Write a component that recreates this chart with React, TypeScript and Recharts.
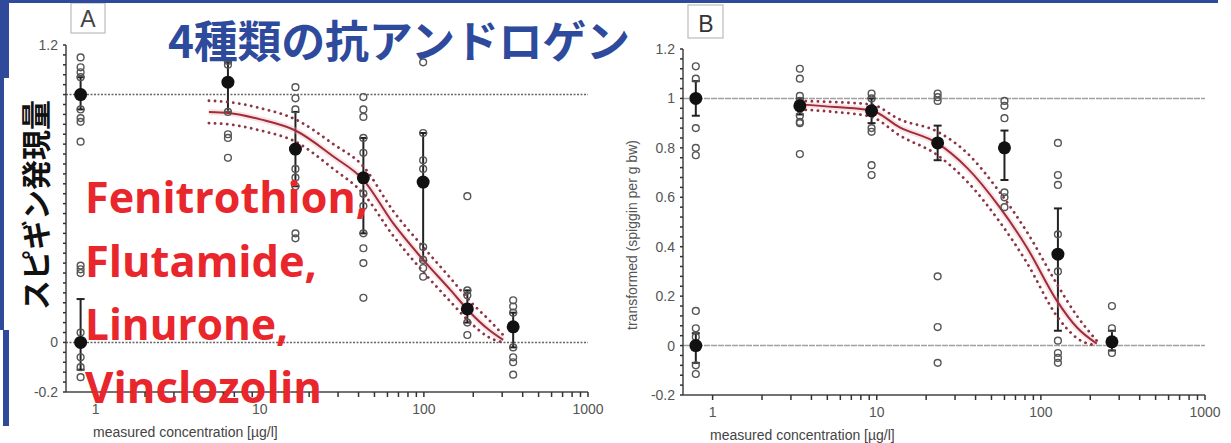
import React from "react";
import {
  ComposedChart,
  Scatter,
  Line,
  XAxis,
  YAxis,
  ReferenceLine,
  ErrorBar,
} from "recharts";

// Panel A: group concentrations (µg/l); the first two columns are the controls
const groupConcA = [0.81, 0.81, 6.4, 16.5, 42.8, 99, 184, 350];
const meanA = [1.0, 0.0, 1.05, 0.78, 0.664, 0.647, 0.135, 0.063];
const barLowA = [0.94, -0.11, 0.93, 0.63, 0.44, 0.33, 0.08, -0.02];
const barHighA = [1.07, 0.175, 1.13, 0.93, 0.825, 0.845, 0.21, 0.12];
const pointsA = [
  [1.15, 1.11, 1.09, 1.07, 0.94, 0.905, 0.89, 0.81],
  [0.31, 0.295, 0.28, 0.04, -0.06, -0.1, -0.14],
  [1.135, 1.12, 0.93, 0.84, 0.825, 0.745],
  [1.03, 0.985, 0.94, 0.7, 0.665, 0.63, 0.44, 0.42],
  [0.99, 0.94, 0.91, 0.825, 0.765, 0.6, 0.55, 0.44, 0.38, 0.32, 0.18],
  [1.13, 0.845, 0.735, 0.7, 0.385, 0.333, 0.3, 0.265],
  [0.59, 0.21, 0.19, 0.08, 0.03],
  [0.17, 0.145, 0.12, -0.02, -0.06, -0.08, -0.13],
];
// fitted concentration-response curve with its confidence band
const fitConcA = [4.9, 6.45, 10.1, 16.5, 28.1, 42.8, 65.1, 99.1, 145, 192, 250, 304];
const fitMidA = [0.93, 0.926, 0.9, 0.855, 0.75, 0.656, 0.48, 0.333, 0.212, 0.12, 0.05, 0.01];
const fitUpperA = [0.975, 0.97, 0.945, 0.9, 0.8, 0.71, 0.53, 0.385, 0.26, 0.165, 0.09, 0.03];
const fitLowerA = [0.885, 0.88, 0.855, 0.81, 0.7, 0.6, 0.43, 0.285, 0.165, 0.08, 0.02, 0.0];

// Panel B
const groupConcB = [0.79, 0.79, 3.4, 9.3, 23.5, 60, 127, 271];
const meanB = [1.0, 0.0, 0.97, 0.95, 0.82, 0.8, 0.37, 0.015];
const barLowB = [0.93, -0.07, 0.935, 0.9, 0.75, 0.67, 0.06, -0.02];
const barHighB = [1.07, 0.05, 1.0, 1.0, 0.89, 0.87, 0.555, 0.06];
const pointsB = [
  [1.13, 1.08, 0.88, 0.8, 0.77],
  [0.14, 0.07, 0.035, -0.08, -0.115],
  [1.12, 1.08, 1.01, 0.99, 0.93, 0.905, 0.9, 0.775],
  [1.02, 1.0, 0.88, 0.865, 0.73, 0.69],
  [1.02, 1.005, 0.99, 0.28, 0.075, -0.07],
  [0.99, 0.97, 0.92, 0.62, 0.6, 0.56],
  [0.82, 0.69, 0.65, 0.45, 0.3, 0.02, -0.03, -0.05, -0.07],
  [0.16, 0.07, -0.03],
];
const fitConcB = [3.39, 5.6, 9.3, 13.8, 23.5, 35.4, 56.2, 82.2, 125, 166, 219];
const fitMidB = [0.976, 0.965, 0.951, 0.883, 0.818, 0.72, 0.559, 0.397, 0.182, 0.073, 0.008];
const fitUpperB = [0.99, 0.985, 0.975, 0.915, 0.865, 0.78, 0.62, 0.46, 0.25, 0.12, 0.02];
const fitLowerB = [0.955, 0.945, 0.925, 0.85, 0.77, 0.665, 0.5, 0.335, 0.12, 0.03, 0.0];

// axis ticks
const xMajorTicks = [1, 10, 100, 1000];
const xMajorLabels = ["1", "10", "100", "1000"];
const yMajorTicks = [-0.2, 0, 0.2, 0.4, 0.6, 0.8, 1, 1.2];
const yMajorLabels = ["-0.2", "0", "0.2", "0.4", "0.6", "0.8", "1", "1.2"];

const xTicks: number[] = [];
[1, 10, 100].forEach((d) => {
  for (let k = 1; k < 10; k++) xTicks.push(d * k);
});
xTicks.push(1000);

const yTicks: number[] = [];
for (let i = -5; i <= 30; i++) yTicks.push(Math.round(i * 4) / 100);

const Y_DOMAIN = [-0.2, 1.2];
const X_DOMAIN = [0.66, 1000];

const TICK_FONT = "'Liberation Sans', Arial, sans-serif";
const tickStyle = { fontSize: 14, fill: "#555", fontFamily: TICK_FONT };
const tickLineStyle = { stroke: "#333", strokeWidth: 1.5 };

const formatX = (v: number) => {
  const i = xMajorTicks.indexOf(v);
  return i >= 0 ? xMajorLabels[i] : "";
};
const formatY = (v: number) => {
  const i = yMajorTicks.findIndex((t) => Math.abs(t - v) < 1e-6);
  return i >= 0 ? yMajorLabels[i] : "";
};

const toXY = (xs: number[], ys: number[]) => xs.map((x, i) => ({ x, y: ys[i] }));

const OpenDot = (p: any) => (
  <circle cx={p.cx} cy={p.cy} r={3.4} fill="none" stroke="#555" strokeWidth={1.4} />
);
const MeanDot = (p: any) => <circle cx={p.cx} cy={p.cy} r={6.5} fill="#111" />;

interface Frame {
  left: number;
  width: number;
  plotLeft: number;
  plotRight: number;
  plotTop: number;
  plotBottom: number;
}

interface PanelProps extends Frame {
  conc: number[];
  mean: number[];
  low: number[];
  high: number[];
  points: number[][];
  fitConc: number[];
  fitMid: number[];
  fitUpper: number[];
  fitLower: number[];
  refStroke: string;
  refDash: string;
}

const chartMargin = (f: Frame) => ({
  top: f.plotTop,
  right: f.width - f.plotRight,
  bottom: 0,
  left: 0,
});

const Panel: React.FC<PanelProps> = (p) => {
  const raw = p.points.flatMap((ys, g) => ys.map((y) => ({ x: p.conc[g], y })));
  const means = p.conc.map((x, i) => ({
    x,
    y: p.mean[i],
    err: [p.mean[i] - p.low[i], p.high[i] - p.mean[i]],
  }));
  const mid = toXY(p.fitConc, p.fitMid);
  const upper = toXY(p.fitConc, p.fitUpper);
  const lower = toXY(p.fitConc, p.fitLower);

  return (
    <div style={{ position: "absolute", left: p.left, top: 0 }}>
      <ComposedChart width={p.width} height={443} margin={chartMargin(p)}>
        <XAxis
          type="number"
          dataKey="x"
          scale="log"
          domain={X_DOMAIN}
          ticks={xTicks}
          interval={0}
          tickSize={5}
          tickMargin={7}
          axisLine={{ stroke: "#444", strokeWidth: 1.6 }}
          tickLine={tickLineStyle}
          tick={tickStyle}
          tickFormatter={formatX}
          height={443 - p.plotBottom}
        />
        <YAxis
          type="number"
          dataKey="y"
          domain={Y_DOMAIN}
          ticks={yTicks}
          interval={0}
          tickSize={3}
          tickMargin={5}
          axisLine={{ stroke: "#444", strokeWidth: 1.5 }}
          tickLine={tickLineStyle}
          tick={tickStyle}
          tickFormatter={formatY}
          width={p.plotLeft}
        />
        <ReferenceLine y={1} stroke={p.refStroke} strokeWidth={1.6} strokeDasharray={p.refDash} />
        <ReferenceLine y={0} stroke={p.refStroke} strokeWidth={1.6} strokeDasharray={p.refDash} />
        <Scatter data={raw} shape={OpenDot} isAnimationActive={false} />
        <Scatter data={means} shape={MeanDot} isAnimationActive={false}>
          <ErrorBar dataKey="err" direction="y" width={4} strokeWidth={2} stroke="#222" />
        </Scatter>
        <Line
          data={mid}
          dataKey="y"
          type="monotone"
          stroke="#eeb0b8"
          strokeOpacity={0.35}
          strokeWidth={6}
          dot={false}
          isAnimationActive={false}
        />
        <Line
          data={upper}
          dataKey="y"
          type="monotone"
          stroke="#8e3442"
          strokeWidth={2.8}
          strokeDasharray="0.1 6"
          strokeLinecap="round"
          dot={false}
          isAnimationActive={false}
        />
        <Line
          data={lower}
          dataKey="y"
          type="monotone"
          stroke="#8e3442"
          strokeWidth={2.8}
          strokeDasharray="0.1 6"
          strokeLinecap="round"
          dot={false}
          isAnimationActive={false}
        />
        <Line
          data={mid}
          dataKey="y"
          type="monotone"
          stroke="#a12c37"
          strokeWidth={2}
          dot={false}
          isAnimationActive={false}
        />
      </ComposedChart>
    </div>
  );
};

const frameA: Frame = { left: 0, width: 617, plotLeft: 66, plotRight: 588, plotTop: 45, plotBottom: 392 };
const frameB: Frame = { left: 617, width: 614, plotLeft: 66, plotRight: 588, plotTop: 49, plotBottom: 395 };

const redLines = ["Fenitrothion,", "Flutamide,", "Linurone,", "Vinclozolin"];
const redWidths = [283, 232, 203, 237];
const redBaselines = [213, 277, 340, 403];

export default function App() {
  const axisTitle = "transformed (spiggin per g bw)";
  const xTitle = "measured concentration [µg/l]";
  return (
    <div
      style={{
        position: "absolute",
        left: 0,
        top: 0,
        width: 1231,
        height: 443,
        background: "#fff",
        overflow: "hidden",
      }}
    >
      <Panel
        {...frameA}
        conc={groupConcA}
        mean={meanA}
        low={barLowA}
        high={barHighA}
        points={pointsA}
        fitConc={fitConcA}
        fitMid={fitMidA}
        fitUpper={fitUpperA}
        fitLower={fitLowerA}
        refStroke="#666"
        refDash="2 1.5"
      />
      <Panel
        {...frameB}
        conc={groupConcB}
        mean={meanB}
        low={barLowB}
        high={barHighB}
        points={pointsB}
        fitConc={fitConcB}
        fitMid={fitMidB}
        fitUpper={fitUpperB}
        fitLower={fitLowerB}
        refStroke="#a0a0a0"
        refDash="6 1"
      />
      <svg
        width={1231}
        height={443}
        style={{ position: "absolute", left: 0, top: 0, pointerEvents: "none" }}
      >
        {/* axis titles */}
        <text
          transform="translate(19 232) rotate(-90)"
          textAnchor="middle"
          fontSize={14}
          fill="#555"
          fontFamily={TICK_FONT}
        >
          {axisTitle}
        </text>
        <text
          transform="translate(637 235) rotate(-90)"
          textAnchor="middle"
          fontSize={14}
          fill="#555"
          fontFamily={TICK_FONT}
        >
          {axisTitle}
        </text>
        <text x={93} y={437} fontSize={14} fill="#444" fontFamily={TICK_FONT}>
          {xTitle}
        </text>
        <text x={710} y={440} fontSize={14} fill="#444" fontFamily={TICK_FONT}>
          {xTitle}
        </text>

        {/* panel letters */}
        <rect x={71} y={3} width={34} height={30} fill="#fff" stroke="#bbb" strokeWidth={1.2} />
        <text x={88} y={27} textAnchor="middle" fontSize={23} fill="#444" fontFamily={TICK_FONT}>
          A
        </text>
        <rect x={688} y={5} width={35} height={33} fill="#fff" stroke="#bbb" strokeWidth={1.2} />
        <text x={706} y={32} textAnchor="middle" fontSize={23} fill="#333" fontFamily={TICK_FONT}>
          B
        </text>

        {/* slide frame */}
        <rect x={0} y={0} width={1218} height={3} fill="#2f4a9a" />
        <rect x={0} y={0} width={9} height={330} fill="#2f4a9a" />
        <rect x={3} y={330} width={6} height={96} fill="#2f4a9a" />
        <rect x={4} y={78} width={58} height={252} fill="#fff" />

        <text
          transform="translate(34 205) rotate(-90)"
          textAnchor="middle"
          dominantBaseline="central"
          fontSize={30}
          fontWeight={700}
          fill="#111"
          fontFamily="'Noto Sans CJK JP', sans-serif"
        >
          スピギン発現量
        </text>

        <text
          x={168}
          y={58}
          fontSize={44}
          fontWeight={700}
          fill="#2e4a9c"
          textLength={462}
          fontFamily="'Noto Sans CJK JP', sans-serif"
        >
          4種類の抗アンドロゲン
        </text>

        {redLines.map((t, i) => (
          <text
            key={t}
            x={85}
            y={redBaselines[i]}
            fontSize={43}
            fontWeight={700}
            fill="#e8262b"
            textLength={redWidths[i]}
            lengthAdjust="spacingAndGlyphs"
            fontFamily="'Open Sans', Lato, sans-serif"
          >
            {t}
          </text>
        ))}
      </svg>
    </div>
  );
}
